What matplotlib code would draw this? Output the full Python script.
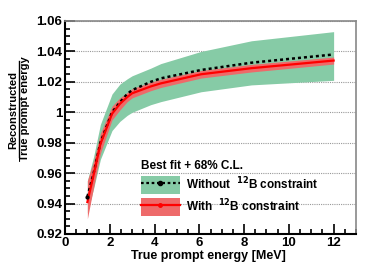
import numpy as np
import matplotlib
matplotlib.use('Agg')
import matplotlib.pyplot as plt
from matplotlib.patches import Patch
from matplotlib.lines import Line2D
from matplotlib.ticker import MultipleLocator

plt.rcParams['font.family'] = ['Liberation Sans', 'DejaVu Sans']
plt.rcParams['font.weight'] = 'bold'

# Energy points (MeV)
energy = [1.0, 1.28, 1.58, 2.1, 2.45, 2.78, 3.0, 3.83, 4.28, 6.08, 8.33, 12.0]

# Without 12B constraint: best fit and 68% C.L. band
wo_best = [0.9445, 0.960, 0.980, 1.000, 1.0065, 1.012, 1.0146, 1.020, 1.0223, 1.0278, 1.0326, 1.038]
wo_lo = [0.934, 0.950, 0.969, 0.988, 0.994, 0.998, 1.000, 1.005, 1.007, 1.0135, 1.018, 1.021]
wo_hi = [0.955, 0.971, 0.992, 1.012, 1.0185, 1.022, 1.024, 1.029, 1.032, 1.040, 1.047, 1.053]

# With 12B constraint: best fit and 68% C.L. band
w_best = [0.941, 0.959, 0.979, 0.999, 1.0055, 1.010, 1.0125, 1.017, 1.019, 1.025, 1.029, 1.034]
w_lo = [0.930, 0.951, 0.973, 0.995, 1.0015, 1.007, 1.0095, 1.0142, 1.0163, 1.0225, 1.0265, 1.0317]
w_hi = [0.955, 0.968, 0.986, 1.004, 1.0095, 1.013, 1.0155, 1.0198, 1.0217, 1.0275, 1.0315, 1.0363]

green = '#86cba6'
red_band = '#ee6a6a'

fig = plt.figure(figsize=(3.74, 2.68), dpi=100)
ax = fig.add_axes([65 / 374, 1 - 234 / 268, 291 / 374, 213 / 268])

ax.fill_between(energy, wo_lo, wo_hi, color=green, lw=0, zorder=2)
ax.fill_between(energy, w_lo, w_hi, color=red_band, lw=0, zorder=3)
ax.plot(energy, wo_best, color='black', ls=(0, (1.2, 1.2)), lw=1.8, zorder=4)
ax.plot(energy[0], wo_best[0], 'o', color='black', ms=2, zorder=5)
ax.plot(energy, w_best, color='#ff0000', lw=1.6, zorder=4)

ax.set_xlim(0, 13)
ax.set_ylim(0.92, 1.06)
ax.xaxis.set_major_locator(MultipleLocator(2))
ax.xaxis.set_minor_locator(MultipleLocator(0.5))
ax.yaxis.set_minor_locator(MultipleLocator(0.005))
ax.set_yticks([0.92, 0.94, 0.96, 0.98, 1.0, 1.02, 1.04, 1.06])
ax.set_yticklabels(['0.92', '0.94', '0.96', '0.98', '1', '1.02', '1.04', '1.06'])
ax.yaxis.grid(True, which='major', color='#999999', ls=(0, (1, 1)), lw=0.8, zorder=1)
ax.tick_params(which='both', direction='in', top=False, right=False,
               labelsize=9.5, width=1.2, pad=2)
ax.tick_params(which='major', length=7)
ax.tick_params(which='minor', length=3.5)
for s in ['left', 'bottom']:
    ax.spines[s].set_linewidth(1.5)
for s in ['top', 'right']:
    ax.spines[s].set_color('#888888')
    ax.spines[s].set_linewidth(1.2)

fig.text(208 / 374, 1 - 256 / 268, 'True prompt energy [MeV]', ha='center',
         va='center', fontsize=9, fontweight='bold')

# y label as a fraction
fig.text(13 / 374, 1 - 110 / 268, 'Reconstructed', rotation=90, ha='center',
         va='center', fontsize=8, fontweight='bold')
fig.text(25 / 374, 1 - 109 / 268, 'True prompt energy', rotation=90, ha='center',
         va='center', fontsize=8, fontweight='bold')
fig.add_artist(Line2D([19 / 374, 19 / 374], [1 - 157 / 268, 1 - 61 / 268],
                      color='black', lw=1.0, transform=fig.transFigure))

handles = [
    (Patch(facecolor=green, edgecolor='none'),
     Line2D([], [], color='black', ls=(0, (1.2, 1.2)), lw=1.6, marker='o', ms=3)),
    (Patch(facecolor=red_band, edgecolor='none'),
     Line2D([], [], color='#ff0000', lw=1.6, marker='o', ms=2.5)),
]
leg = ax.legend(handles, ['Without  $^{12}$B constraint', 'With  $^{12}$B constraint'],
                loc='upper left', bbox_to_anchor=(71 / 291, 1 - 134 / 213),
                frameon=False, fontsize=8.5, handlelength=3.3, handleheight=1.9,
                labelspacing=0.3, handletextpad=0.5, borderaxespad=0,
                title='Best fit + 68% C.L.', title_fontproperties={'size': 8.5, 'weight': 'bold'})
leg._legend_box.align = 'left'
for t in leg.get_texts():
    t.set_fontweight('bold')

fig.savefig('out.png', dpi=100)
